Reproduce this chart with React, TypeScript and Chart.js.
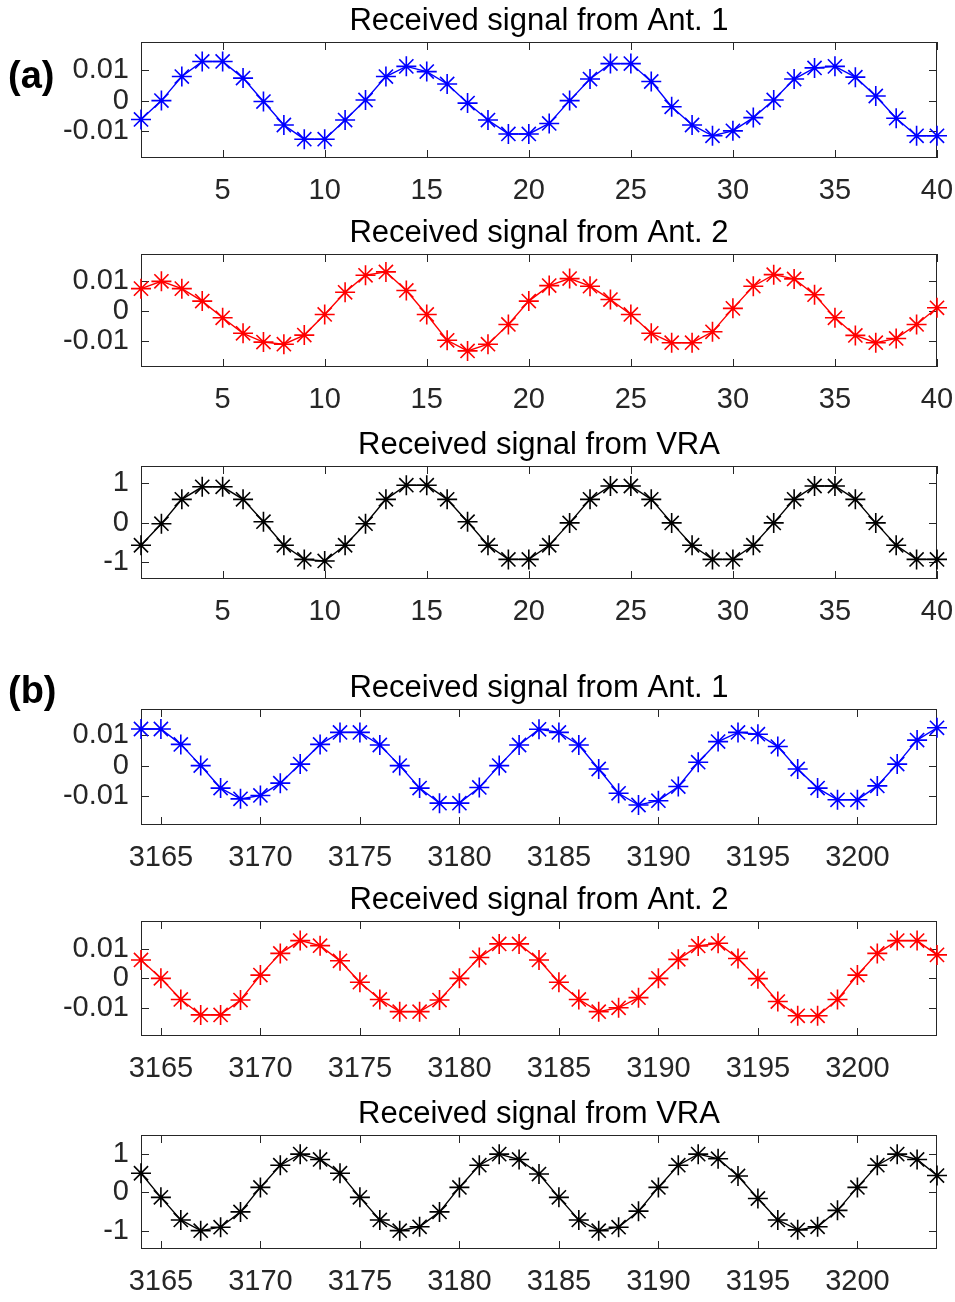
import React, { useEffect, useRef } from 'react';
import { Chart, registerables } from 'chart.js';

Chart.register(...registerables);

// ---------------- data ----------------
const sampleIndexA = [1, 2, 3, 4, 5, 6, 7, 8, 9, 10, 11, 12, 13, 14, 15, 16, 17, 18, 19, 20, 21, 22, 23, 24, 25, 26, 27, 28, 29, 30, 31, 32, 33, 34, 35, 36, 37, 38, 39, 40];
const sampleIndexB = [3164, 3165, 3166, 3167, 3168, 3169, 3170, 3171, 3172, 3173, 3174, 3175, 3176, 3177, 3178, 3179, 3180, 3181, 3182, 3183, 3184, 3185, 3186, 3187, 3188, 3189, 3190, 3191, 3192, 3193, 3194, 3195, 3196, 3197, 3198, 3199, 3200, 3201, 3202, 3203, 3204];

const ant1A = [-0.0061, 0.0000, 0.0078, 0.0127, 0.0127, 0.0073, -0.0003, -0.0079, -0.0125, -0.0125,
  -0.0063, 0.0002, 0.0078, 0.0111, 0.0094, 0.0054, -0.0008, -0.0063, -0.0108, -0.0108,
  -0.0074, 0.0000, 0.0070, 0.0120, 0.0120, 0.0062, -0.0020, -0.0079, -0.0114, -0.0098,
  -0.0055, 0.0002, 0.0070, 0.0106, 0.0111, 0.0076, 0.0015, -0.0057, -0.0114, -0.0114];
const ant2A = [0.0074, 0.0098, 0.0074, 0.0033, -0.0022, -0.0073, -0.0102, -0.0109, -0.0079, -0.0011,
  0.0062, 0.0118, 0.0129, 0.0068, -0.0011, -0.0096, -0.0131, -0.0109, -0.0044, 0.0033,
  0.0084, 0.0107, 0.0082, 0.0038, -0.0011, -0.0073, -0.0104, -0.0104, -0.0068, 0.0009,
  0.0082, 0.0120, 0.0106, 0.0054, -0.0022, -0.0080, -0.0104, -0.0090, -0.0044, 0.0011];
const vraA = [-0.58, -0.03, 0.59, 0.91, 0.91, 0.59, 0.02, -0.58, -0.94, -0.98,
  -0.58, -0.03, 0.59, 0.95, 0.95, 0.59, 0.02, -0.58, -0.94, -0.94,
  -0.58, -0.01, 0.59, 0.93, 0.93, 0.59, -0.01, -0.58, -0.94, -0.94,
  -0.58, -0.01, 0.59, 0.93, 0.93, 0.59, -0.01, -0.58, -0.94, -0.94];

const ant1B = [0.0119, 0.0119, 0.0069, 0.0000, -0.0073, -0.0108, -0.0097, -0.0057, 0.0005, 0.0069,
  0.0108, 0.0108, 0.0067, 0.0000, -0.0073, -0.0122, -0.0122, -0.0071, 0.0000, 0.0067,
  0.0118, 0.0108, 0.0067, -0.0011, -0.0090, -0.0128, -0.0114, -0.0068, 0.0011, 0.0078,
  0.0108, 0.0102, 0.0062, -0.0011, -0.0073, -0.0111, -0.0111, -0.0066, 0.0005, 0.0083, 0.0123];
const ant2B = [0.0062, 0.0000, -0.0071, -0.0123, -0.0123, -0.0073, 0.0011, 0.0084, 0.0127, 0.0110,
  0.0059, -0.0013, -0.0071, -0.0112, -0.0112, -0.0073, 0.0000, 0.0070, 0.0116, 0.0116,
  0.0062, -0.0013, -0.0071, -0.0112, -0.0099, -0.0065, 0.0000, 0.0064, 0.0109, 0.0118,
  0.0067, -0.0001, -0.0078, -0.0126, -0.0126, -0.0071, 0.0011, 0.0084, 0.0127, 0.0127, 0.0079];
const vraB = [0.50, -0.13, -0.72, -1.00, -0.91, -0.51, 0.13, 0.71, 1.00, 0.86,
  0.50, -0.13, -0.72, -1.00, -0.90, -0.51, 0.13, 0.71, 1.00, 0.86,
  0.48, -0.13, -0.72, -1.00, -0.91, -0.49, 0.13, 0.71, 1.00, 0.88,
  0.43, -0.16, -0.72, -0.98, -0.90, -0.47, 0.13, 0.71, 1.00, 0.86, 0.44];

const xTicksA = [5, 10, 15, 20, 25, 30, 35, 40];
const xTicksB = [3165, 3170, 3175, 3180, 3185, 3190, 3195, 3200];
const yTicksSmall = [-0.01, 0, 0.01];
const yTickLabelsSmall = ['-0.01', '0', '0.01'];
const yTicksUnit = [-1, 0, 1];
const yTickLabelsUnit = ['-1', '0', '1'];

const titleAnt1 = 'Received signal from Ant. 1';
const titleAnt2 = 'Received signal from Ant. 2';
const titleVRA = 'Received signal from VRA';

// ---------------- layout ----------------
const FONT = '"Liberation Sans", Arial, Helvetica, sans-serif';
const AXIS_COLOR = '#262626';
const PLOT_LEFT = 141;
const PLOT_RIGHT = 937;
const W = 955;
const TITLE_SPACE = 42;
const XAXIS_SPACE = 52;
const TITLE_SIZE = 31;
const TICK_SIZE = 29;

type Panel = {
  title: string;
  xs: number[];
  ys: number[];
  color: string;
  xMin: number;
  xMax: number;
  yMin: number;
  yMax: number;
  xTicks: number[];
  yTicks: number[];
  yLabels: string[];
  plotTop: number;
  plotBottom: number;
};

const panels: Panel[] = [
  { title: titleAnt1, xs: sampleIndexA, ys: ant1A, color: '#0000ff', xMin: 1, xMax: 40, yMin: -0.0186, yMax: 0.019, xTicks: xTicksA, yTicks: yTicksSmall, yLabels: yTickLabelsSmall, plotTop: 42, plotBottom: 158 },
  { title: titleAnt2, xs: sampleIndexA, ys: ant2A, color: '#ff0000', xMin: 1, xMax: 40, yMin: -0.0184, yMax: 0.0188, xTicks: xTicksA, yTicks: yTicksSmall, yLabels: yTickLabelsSmall, plotTop: 254, plotBottom: 367 },
  { title: titleVRA, xs: sampleIndexA, ys: vraA, color: '#000000', xMin: 1, xMax: 40, yMin: -1.44, yMax: 1.44, xTicks: xTicksA, yTicks: yTicksUnit, yLabels: yTickLabelsUnit, plotTop: 466, plotBottom: 579 },
  { title: titleAnt1, xs: sampleIndexB, ys: ant1B, color: '#0000ff', xMin: 3164, xMax: 3204, yMin: -0.0193, yMax: 0.0184, xTicks: xTicksB, yTicks: yTicksSmall, yLabels: yTickLabelsSmall, plotTop: 709, plotBottom: 825 },
  { title: titleAnt2, xs: sampleIndexB, ys: ant2B, color: '#ff0000', xMin: 3164, xMax: 3204, yMin: -0.0194, yMax: 0.0193, xTicks: xTicksB, yTicks: yTicksSmall, yLabels: yTickLabelsSmall, plotTop: 921, plotBottom: 1036 },
  { title: titleVRA, xs: sampleIndexB, ys: vraB, color: '#000000', xMin: 3164, xMax: 3204, yMin: -1.48, yMax: 1.5, xTicks: xTicksB, yTicks: yTicksUnit, yLabels: yTickLabelsUnit, plotTop: 1135, plotBottom: 1249 },
];

const boxTicksPlugin = {
  id: 'boxTicks',
  beforeDatasetsDraw(chart: any) {
    const { ctx, chartArea: a, scales } = chart;
    const xs = scales.x;
    const ys = scales.y;
    const L = 8;
    ctx.save();
    ctx.strokeStyle = AXIS_COLOR;
    ctx.lineWidth = 1;
    ctx.strokeRect(a.left + 0.5, a.top + 0.5, a.right - a.left - 1, a.bottom - a.top - 1);
    ctx.beginPath();
    xs.ticks.forEach((t: any) => {
      const p = Math.round(xs.getPixelForValue(t.value)) + 0.5;
      ctx.moveTo(p, a.bottom);
      ctx.lineTo(p, a.bottom - L);
      ctx.moveTo(p, a.top);
      ctx.lineTo(p, a.top + L);
    });
    ys.ticks.forEach((t: any) => {
      const p = Math.round(ys.getPixelForValue(t.value)) + 0.5;
      ctx.moveTo(a.left, p);
      ctx.lineTo(a.left + L, p);
      ctx.moveTo(a.right, p);
      ctx.lineTo(a.right - L, p);
    });
    ctx.stroke();
    ctx.restore();
  },
};

function PanelChart({ panel }: { panel: Panel }) {
  const ref = useRef<HTMLCanvasElement | null>(null);
  const H = TITLE_SPACE + (panel.plotBottom - panel.plotTop) + XAXIS_SPACE;
  useEffect(() => {
    if (!ref.current) return;
    const data = panel.xs.map((x, i) => ({ x, y: panel.ys[i] }));
    const chart = new Chart(ref.current, {
      type: 'line',
      data: {
        datasets: [
          {
            data,
            borderColor: panel.color,
            backgroundColor: panel.color,
            borderWidth: 1.4,
            pointStyle: 'star',
            pointRadius: 10,
            pointBorderWidth: 1.6,
            pointBorderColor: panel.color,
            pointBackgroundColor: panel.color,
            tension: 0,
            clip: false as any,
          },
        ],
      },
      options: {
        responsive: false,
        animation: false,
        events: [],
        layout: { padding: { top: 0, right: W - PLOT_RIGHT, bottom: 0, left: 0 } },
        plugins: {
          legend: { display: false },
          tooltip: { enabled: false },
          title: {
            display: true,
            text: panel.title,
            fullSize: false,
            color: '#000000',
            font: { family: FONT, size: TITLE_SIZE, weight: 'normal', lineHeight: 1.2 },
            padding: { top: 3, bottom: TITLE_SPACE - 3 - TITLE_SIZE * 1.2 },
          },
        },
        scales: {
          x: {
            type: 'linear',
            min: panel.xMin,
            max: panel.xMax,
            grid: { display: false, drawTicks: false },
            border: { display: false },
            afterBuildTicks: (s: any) => {
              s.ticks = panel.xTicks.map((v) => ({ value: v }));
            },
            afterFit: (s: any) => {
              s.height = XAXIS_SPACE;
              s.paddingLeft = 0;
              s.paddingRight = 0;
            },
            ticks: {
              autoSkip: false,
              maxRotation: 0,
              minRotation: 0,
              padding: 16,
              color: AXIS_COLOR,
              font: { family: FONT, size: TICK_SIZE },
              callback: (v: any) => String(v),
            },
          },
          y: {
            type: 'linear',
            min: panel.yMin,
            max: panel.yMax,
            grid: { display: false, drawTicks: false },
            border: { display: false },
            afterBuildTicks: (s: any) => {
              s.ticks = panel.yTicks.map((v) => ({ value: v }));
            },
            afterFit: (s: any) => {
              s.width = PLOT_LEFT;
              s.paddingTop = 0;
              s.paddingBottom = 0;
            },
            ticks: {
              autoSkip: false,
              padding: 12,
              color: AXIS_COLOR,
              font: { family: FONT, size: TICK_SIZE },
              callback: (v: any) => {
                const idx = panel.yTicks.indexOf(v);
                return idx >= 0 ? panel.yLabels[idx] : '';
              },
            },
          },
        },
      } as any,
      plugins: [boxTicksPlugin],
    });
    return () => chart.destroy();
  }, []);
  return (
    <canvas
      ref={ref}
      width={W}
      height={H}
      style={{ position: 'absolute', left: 0, top: panel.plotTop - TITLE_SPACE, width: W, height: H }}
    />
  );
}

const labelStyle: React.CSSProperties = {
  position: 'absolute',
  left: 8,
  fontFamily: FONT,
  fontWeight: 'bold',
  fontSize: 38,
  lineHeight: '42px',
  color: '#000',
};

export default function App() {
  return (
    <div style={{ position: 'absolute', left: 0, top: 0, width: W, height: 1302, background: '#fff', overflow: 'hidden' }}>
      {panels.map((p, i) => (
        <PanelChart key={i} panel={p} />
      ))}
      <div style={{ ...labelStyle, top: 54 }}>(a)</div>
      <div style={{ ...labelStyle, top: 669 }}>(b)</div>
    </div>
  );
}
